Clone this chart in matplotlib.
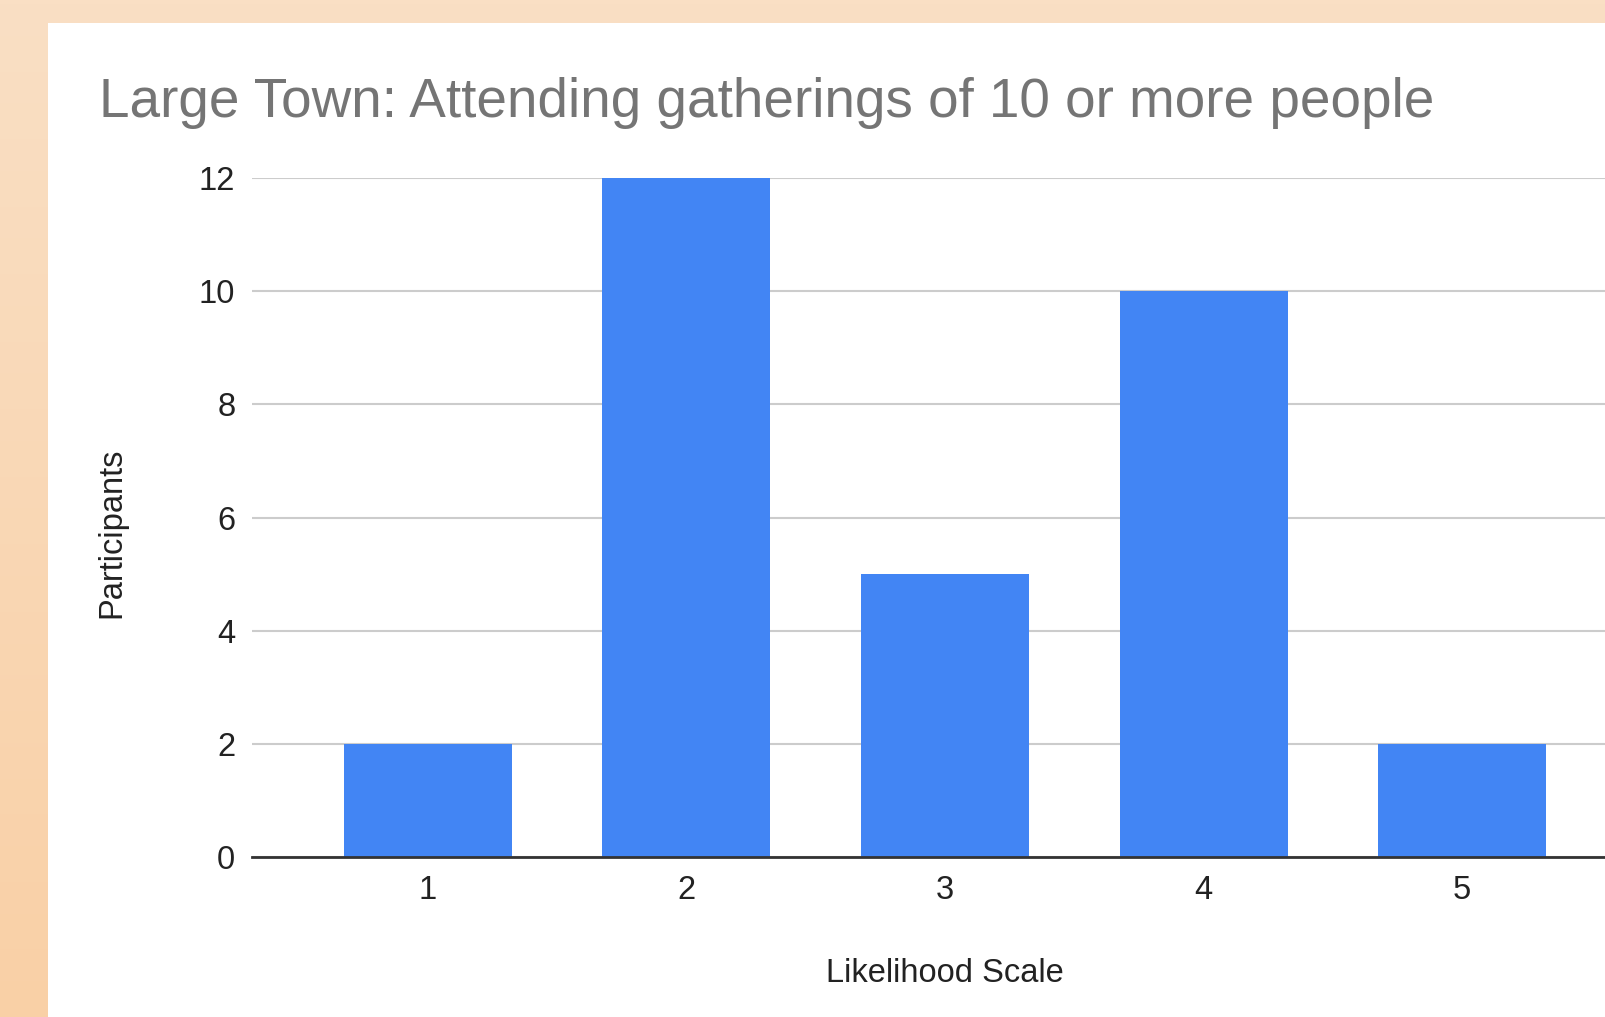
import numpy as np
import matplotlib
matplotlib.use("Agg")
from matplotlib import pyplot as plt
from matplotlib.patches import Rectangle

plt.rcParams['font.family'] = ['Liberation Sans', 'DejaVu Sans']

# survey answers on a 1-5 likelihood scale
escala = [1, 2, 3, 4, 5]
participantes = [2, 12, 5, 10, 2]
ticks_y = [0, 2, 4, 6, 8, 10, 12]

titulo = "Large Town: Attending gatherings of 10 or more people"
rotulo_x = "Likelihood Scale"
rotulo_y = "Participants"

azul = "#4285f4"

fig = plt.figure(figsize=(16.05, 10.17), dpi=100)

# peach backdrop with a soft vertical fade
fundo = fig.add_axes([0, 0, 1, 1], zorder=-2)
topo = np.array([250, 223, 196]) / 255
base = np.array([249, 208, 166]) / 255
t = np.linspace(0, 1, 256)[:, None]
grad = topo * (1 - t) + base * t
fundo.imshow(grad[:, None, :].repeat(2, axis=1), aspect='auto', extent=[0, 1, 0, 1])
fundo.set_axis_off()

# white card
fig.patches.append(Rectangle((48 / 1605, 0), 1, 1 - 23 / 1017, transform=fig.transFigure,
                             facecolor="white", edgecolor="none", zorder=-1))

ax = fig.add_axes([252 / 1605, 160 / 1017, 1386 / 1605, 679 / 1017])
ax.set_facecolor("none")
ax.bar(escala, participantes, width=0.65, color=azul, zorder=3)

ax.set_xlim(0.32, 5.68)
ax.set_ylim(0, 12)
ax.set_xticks(escala)
ax.set_yticks(ticks_y)
ax.grid(axis='y', color="#cccccc", linewidth=1.5, zorder=0)
ax.tick_params(length=0, labelsize=23.5, colors="#222222")
ax.tick_params(axis='y', pad=12)
ax.tick_params(axis='x', pad=13)

for lado in ['top', 'right', 'left']:
    ax.spines[lado].set_visible(False)
ax.spines['bottom'].set_color("#333333")
ax.spines['bottom'].set_linewidth(2)
ax.spines['bottom'].set_zorder(4)

ax.set_xlabel(rotulo_x, fontsize=23.5, color="#222222")
ax.xaxis.set_label_coords(0.5, -0.171)
ax.xaxis.label.set_va('center')
ax.set_ylabel(rotulo_y, fontsize=23.5, color="#222222")
ax.yaxis.set_label_coords(-0.101, 0.477)
ax.yaxis.label.set_va('center')

fig.text(99 / 1605, 1 - 117 / 1017, titulo, fontsize=39.5, color="#757575",
         ha='left', va='baseline')

plt.savefig('out.png', dpi=100)
